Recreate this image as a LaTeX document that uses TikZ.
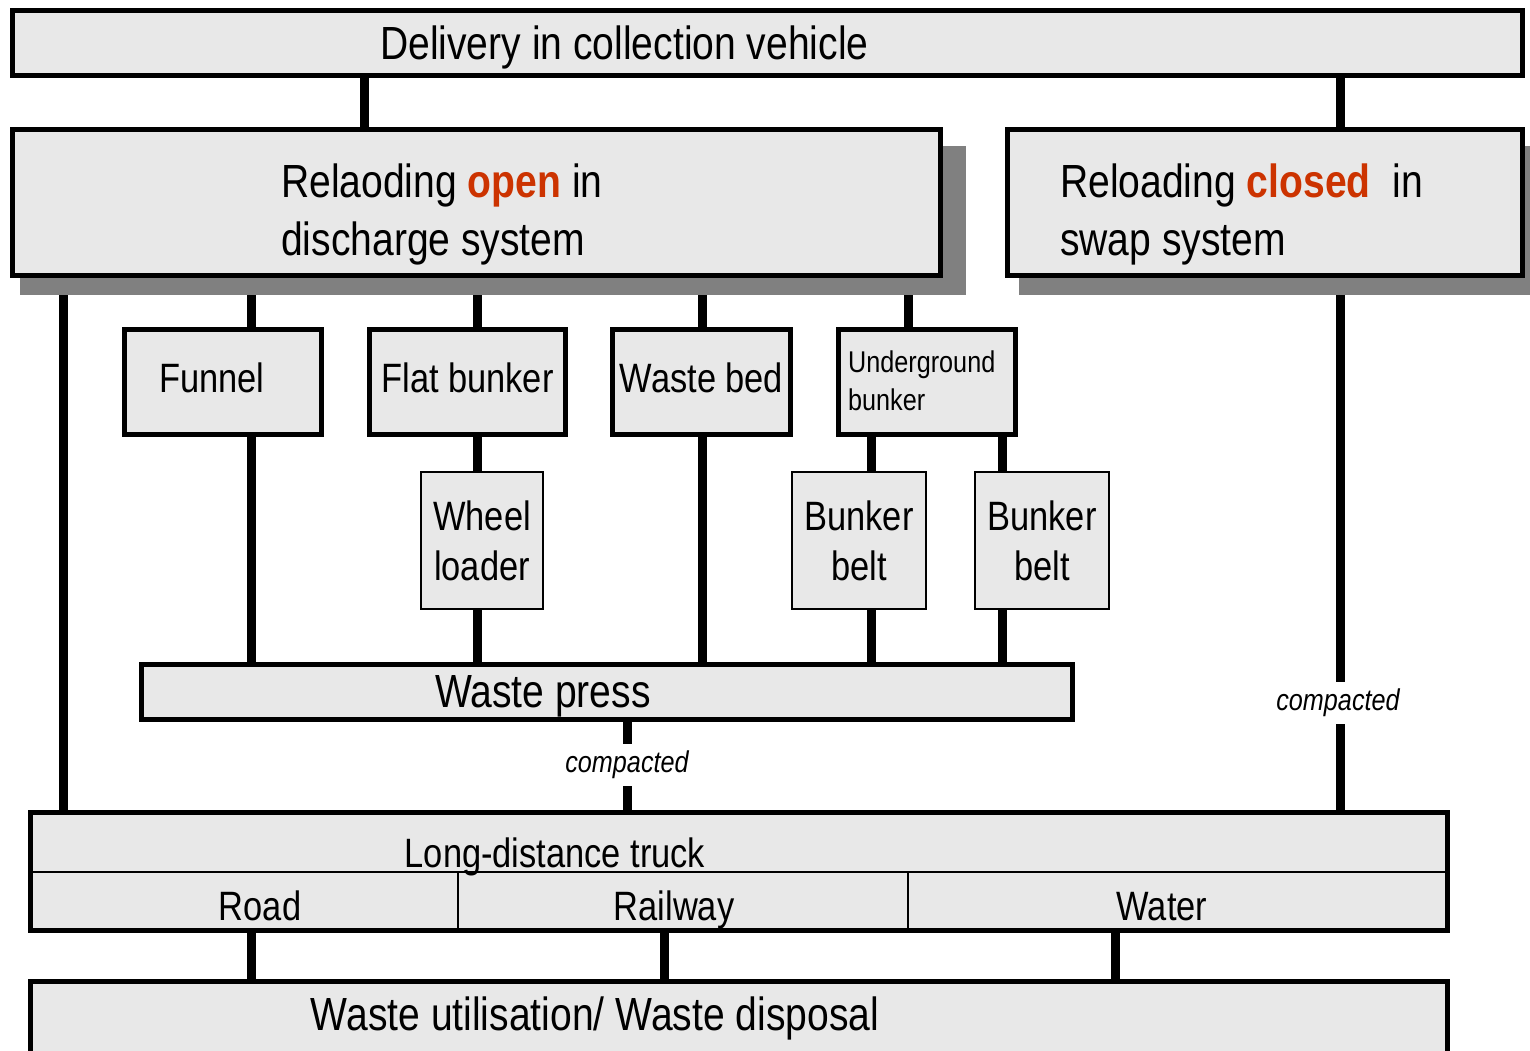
\documentclass[tikz,border=0pt]{standalone}
\usepackage{fontspec}
\setmainfont{Liberation Sans}[FakeStretch=0.84]
\usetikzlibrary{shadows,backgrounds}

\definecolor{boxgray}{HTML}{E8E8E8}
\definecolor{hotred}{HTML}{CC3300}

\newcommand\fbig{\fontsize{46.5}{58}\selectfont}
\newcommand\fmid{\fontsize{41}{50}\selectfont}
\newcommand\fsmall{\fontsize{30}{38}\selectfont}

% vertical feed line between two boxes, at column x = #3
\newcommand\feed[3]{%
  \coordinate (col) at (#3,0);
  \draw[link] (#1.south -| col) -- (#2.north -| col);}

\begin{document}
\begin{tikzpicture}[x=1pt,y=-1pt,
    thickbox/.style ={rectangle, draw, fill=boxgray, line width=5pt, inner sep=0pt},
    thinbox/.style  ={rectangle, draw, fill=boxgray, line width=2pt, inner sep=0pt},
    cell/.style     ={rectangle, draw, line width=2pt, inner sep=0pt},
    shadowed/.style ={drop shadow={shadow xshift=16pt, shadow yshift=-18pt,
                      shadow scale=1.02, fill=black!50, opacity=1}},
    single/.style   ={font=\fmid, text height=30pt, text depth=10pt},
    link/.style     ={line width=9pt},
    lbl/.style      ={inner sep=0pt},
    note/.style     ={fill=white, inner xsep=2pt, inner ysep=7pt, font=\fsmall\itshape}]
  \useasboundingbox (0,0) rectangle (1530,1051);

  % top row
  \node[thickbox, minimum width=1510, minimum height=65] (deliv) at (767.5,43) {};
  \node[lbl, anchor=base west, font=\fbig] (delivtext) at (380,60) {Delivery in collection vehicle};

  % (base of a two-line label = baseline of its last line)
  \node[thickbox, shadowed, minimum width=928, minimum height=146] (open) at (476.5,202.5) {};
  \node[lbl, anchor=base west, font=\fbig, align=left] (opentext) at (281,255)
    {Relaoding \textcolor{hotred}{\textbf{open}} in\\discharge system};

  \node[thickbox, shadowed, minimum width=515, minimum height=146] (closed) at (1265,202.5) {};
  \node[lbl, anchor=base west, font=\fbig, align=left] (closedtext) at (1060,255)
    {Reloading \textcolor{hotred}{\textbf{closed}}\ \ in\\swap system};

  % discharge devices
  \node[thickbox, minimum width=197, minimum height=105] (funnel) at (223,382) {};
  \node[lbl, anchor=base, font=\fmid] (funneltext) at (212,392) {Funnel};
  \node[thickbox, single, minimum width=196, minimum height=105] (flat) at (467.5,382) {Flat bunker};
  \node[thickbox, single, minimum width=178, minimum height=105] (bed) at (701.5,382) {Waste bed};
  \node[thickbox, minimum width=177, minimum height=105] (under) at (927,382) {};
  \node[lbl, anchor=base west, font=\fsmall, align=left] (undertext) at (848,410) {Underground\\bunker};

  \node[thinbox, font=\fmid, align=center, minimum width=122, minimum height=137] (wheel) at (482,540.5) {Wheel\\loader};
  \node[thinbox, font=\fmid, align=center, minimum width=134, minimum height=137] (beltA) at (859,540.5) {Bunker\\belt};
  \node[thinbox, font=\fmid, align=center, minimum width=134, minimum height=137] (beltB) at (1042,540.5) {Bunker\\belt};

  \node[thickbox, minimum width=931, minimum height=55] (press) at (607,692) {};
  \node[lbl, anchor=base, font=\fbig] (presstext) at (543,707) {Waste press};

  % transport
  \node[thickbox, minimum width=1417, minimum height=118] (truck) at (739,871.5) {};
  \node[lbl, anchor=base, font=\fmid] (trucktext) at (555,867) {Long-distance truck};
  \node[cell, minimum width=427.5, minimum height=58.5] (road) at (244.25,901.25) {};
  \node[cell, minimum width=450, minimum height=58.5] (railway) at (683,901.25) {};
  \node[cell, minimum width=539.5, minimum height=58.5] (water) at (1177.75,901.25) {};
  \node[lbl, anchor=base, font=\fmid] (roadtext) at (260,920) {Road};
  \node[lbl, anchor=base, font=\fmid] (railwaytext) at (674,920) {Railway};
  \node[lbl, anchor=base, font=\fmid] (watertext) at (1162,920) {Water};

  \node[thickbox, minimum width=1417, minimum height=83] (dispose) at (739,1023) {};
  \node[lbl, anchor=base, font=\fbig] (disposetext) at (595,1030) {Waste utilisation/ Waste disposal};

  \begin{scope}[on background layer]
    \feed{deliv}{open}{364}
    \feed{deliv}{closed}{1340}
    \feed{open}{truck}{63}
    \feed{open}{funnel}{251}
    \feed{open}{flat}{477}
    \feed{open}{bed}{702}
    \feed{open}{under}{908}
    \feed{flat}{wheel}{477}
    \feed{under}{beltA}{871}
    \feed{under}{beltB}{1002}
    \feed{funnel}{press}{251}
    \feed{wheel}{press}{477}
    \feed{bed}{press}{702}
    \feed{beltA}{press}{871}
    \feed{beltB}{press}{1002}
    \feed{press}{truck}{627}
    \feed{closed}{truck}{1340}
    \feed{road}{dispose}{251}
    \feed{railway}{dispose}{664}
    \feed{water}{dispose}{1115}
  \end{scope}

  \node[note] (cmpA) at (627,765) {compacted};
  \node[note] (cmpB) at (1338,703) {compacted};
\end{tikzpicture}
\end{document}
